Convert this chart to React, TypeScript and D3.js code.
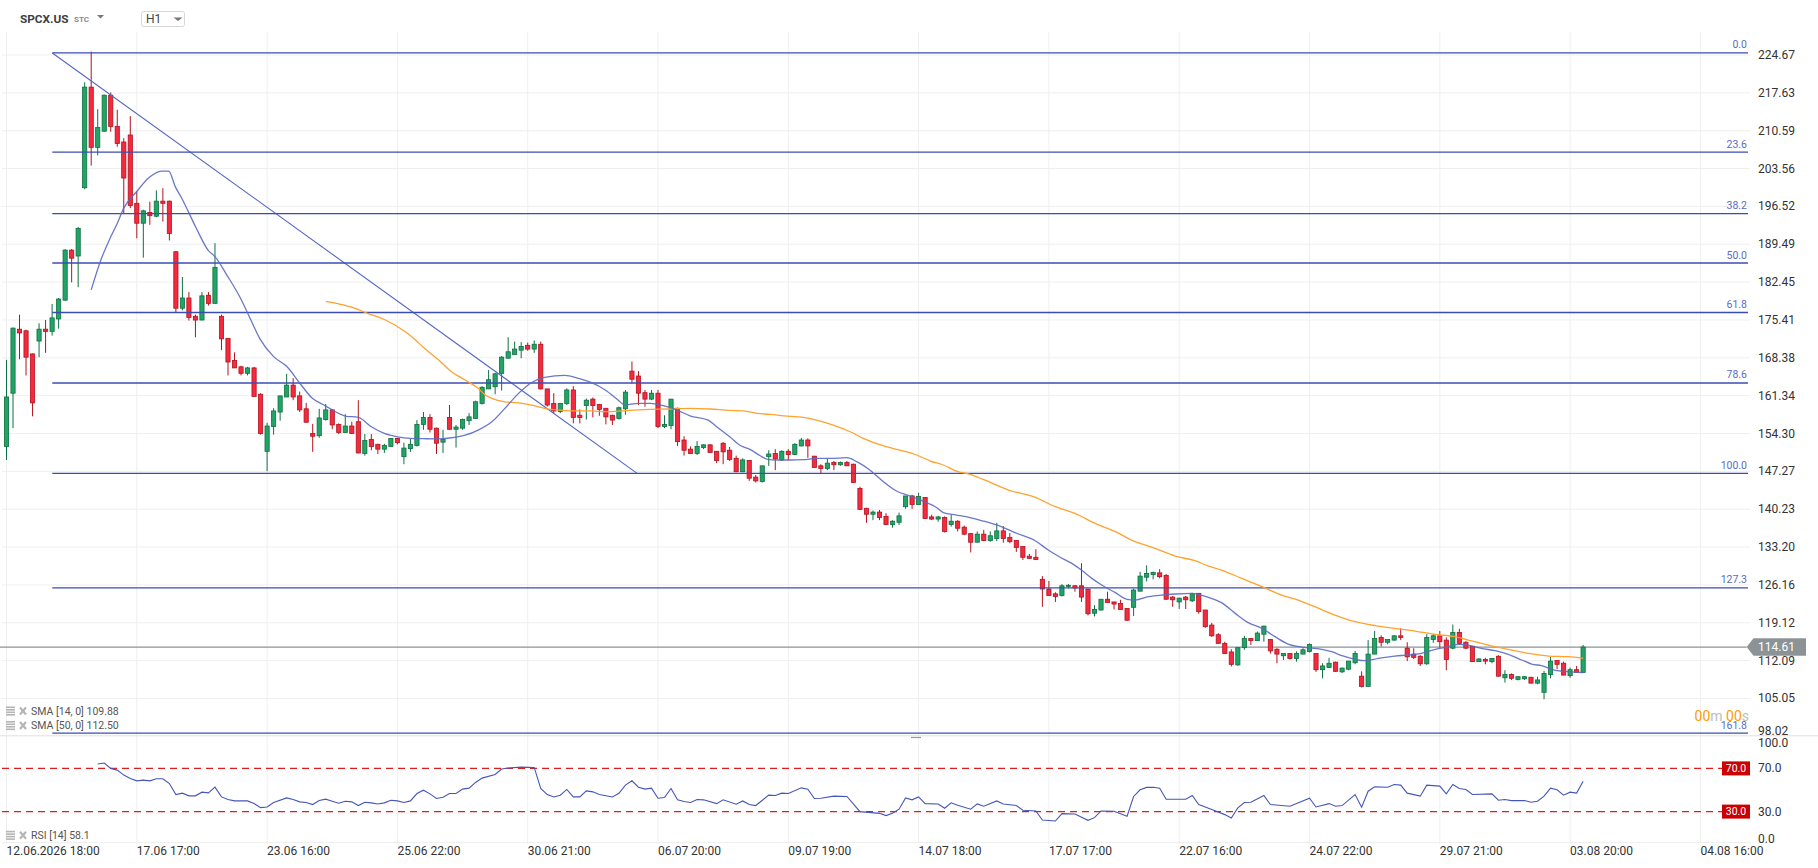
import React from "react";
import * as d3 from "d3";

// hourly candles
const opens = [
  151.9, 161.8, 173.7, 173.4, 169.1, 171.5, 173.7, 173.3, 175.6, 179.1,
  188.4, 187.3, 200.0, 218.7, 207.5, 210.5, 217.2, 211.4, 208.5, 209.8,
  197.1, 193.4, 195.4, 194.7, 197.5, 197.5, 188.1, 177.6, 179.5, 176.1,
  175.4, 180.0, 178.5, 176.1, 172.0, 167.9, 166.7, 165.5, 166.5, 161.6,
  151.0, 155.6, 158.3, 161.1, 163.3, 161.3, 158.9, 154.3, 153.9, 156.9,
  158.7, 156.0, 154.5, 155.7, 156.5, 150.6, 153.2, 152.3, 151.4, 151.9,
  153.4, 150.0, 151.5, 152.1, 156.0, 157.3, 155.3, 152.7, 157.3, 155.1,
  155.3, 156.7, 157.1, 159.9, 162.6, 163.0, 165.5, 168.3, 169.0, 169.8,
  170.7, 170.0, 170.9, 162.6, 159.9, 158.4, 159.9, 162.4, 157.7, 159.5,
  160.7, 159.7, 159.0, 157.7, 157.1, 158.9, 165.9, 165.0, 161.9, 160.7,
  161.8, 155.6, 155.8, 159.0, 153.1, 151.4, 150.6, 151.7, 152.2, 151.0,
  152.5, 151.2, 149.7, 147.2, 149.3, 146.2, 145.4, 150.0, 150.6, 149.4,
  151.0, 150.4, 152.0, 153.1, 150.1, 148.3, 147.8, 148.9, 148.5, 148.9,
  148.6, 144.1, 140.4, 139.3, 139.7, 138.9, 137.4, 137.8, 140.7, 142.7,
  141.1, 142.4, 138.8, 138.4, 138.7, 137.4, 138.0, 136.9, 135.7, 134.1,
  135.6, 134.4, 134.8, 136.2, 135.0, 134.4, 133.3, 131.5, 131.3, 127.2,
  125.4, 124.5, 124.2, 125.9, 126.0, 126.0, 125.4, 120.9, 121.5, 123.5,
  123.0, 122.7, 121.8, 122.0, 125.0, 127.6, 128.1, 128.4, 127.9, 123.9,
  123.0, 123.9, 123.2, 124.6, 121.5, 118.7, 116.9, 115.3, 113.7, 111.3,
  114.5, 116.2, 115.8, 117.0, 116.0, 114.2, 113.0, 113.4, 112.5, 113.3,
  113.8, 113.4, 110.4, 110.8, 111.8, 110.0, 110.5, 111.7, 109.2, 107.3,
  113.3, 116.4, 115.5, 115.9, 116.7, 114.4, 113.3, 112.9, 111.5, 116.0,
  116.7, 115.9, 114.4, 117.3, 115.5, 114.7, 111.9, 112.3, 111.9, 112.9,
  108.9, 109.5, 108.6, 108.7, 109.0, 107.9, 106.2, 109.5, 112.1, 111.6,
  109.3, 110.4, 109.9,
];
const highs = [
  168.0, 174.0, 176.4, 173.6, 169.2, 174.8, 175.4, 178.4, 179.5, 188.6,
  188.6, 192.7, 219.6, 225.3, 214.6, 217.3, 217.7, 214.5, 209.2, 213.3,
  199.3, 195.9, 197.4, 199.5, 199.9, 197.6, 188.2, 183.4, 180.6, 176.4,
  180.6, 180.6, 189.7, 176.4, 172.0, 169.4, 166.9, 166.7, 166.7, 161.8,
  156.3, 159.0, 161.3, 165.4, 164.6, 162.1, 160.0, 156.1, 158.9, 159.8,
  158.8, 156.2, 157.9, 156.5, 160.5, 154.2, 154.2, 152.4, 152.4, 153.4,
  153.5, 152.6, 153.3, 156.8, 158.3, 157.9, 155.4, 155.0, 159.6, 155.9,
  157.1, 158.1, 160.4, 163.1, 166.1, 165.6, 168.7, 172.2, 171.4, 171.3,
  171.2, 171.6, 171.4, 162.6, 161.8, 160.0, 162.7, 163.1, 158.8, 160.8,
  161.0, 159.8, 159.0, 157.8, 159.3, 162.4, 167.7, 165.9, 162.4, 162.4,
  162.4, 157.7, 160.7, 159.1, 153.8, 151.9, 152.9, 152.3, 152.3, 151.0,
  152.7, 151.8, 150.2, 149.7, 149.4, 146.6, 148.3, 151.2, 151.4, 151.2,
  151.4, 152.5, 153.5, 153.4, 150.1, 148.6, 149.6, 149.2, 149.1, 149.2,
  148.7, 144.4, 140.5, 140.0, 140.1, 139.5, 138.2, 139.6, 142.7, 142.9,
  143.3, 142.5, 139.2, 139.0, 138.9, 139.2, 138.2, 137.2, 135.8, 136.1,
  136.4, 136.1, 137.7, 137.1, 135.8, 134.5, 133.3, 131.9, 132.8, 127.8,
  126.9, 124.8, 126.3, 126.3, 126.1, 130.2, 125.4, 122.4, 123.5, 124.9,
  123.0, 123.4, 121.8, 125.5, 128.6, 129.8, 128.6, 129.1, 128.2, 124.1,
  123.8, 124.1, 124.7, 124.6, 121.5, 119.1, 117.2, 115.6, 114.2, 114.5,
  116.7, 116.3, 117.5, 118.6, 116.1, 114.4, 113.4, 113.4, 113.8, 114.4,
  115.3, 113.4, 111.6, 112.6, 111.9, 110.8, 112.0, 113.9, 110.1, 115.9,
  117.6, 116.8, 116.0, 116.8, 118.1, 115.5, 114.4, 113.1, 117.0, 117.0,
  117.6, 116.4, 118.8, 118.0, 115.7, 114.7, 112.5, 112.6, 112.6, 113.1,
  110.3, 109.7, 109.2, 109.2, 109.0, 109.1, 110.2, 112.8, 112.1, 111.9,
  110.8, 111.1, 115.0,
];
const lows = [
  149.4, 155.3, 168.1, 165.1, 157.5, 168.5, 169.3, 172.5, 173.8, 179.0,
  182.4, 181.5, 199.7, 204.1, 206.0, 210.4, 210.4, 207.6, 195.3, 196.2,
  190.6, 187.0, 193.1, 194.5, 193.7, 190.2, 176.8, 177.2, 175.3, 172.2,
  175.4, 178.1, 178.5, 169.8, 165.1, 166.5, 165.1, 165.1, 161.2, 154.1,
  147.3, 154.1, 156.7, 161.1, 160.5, 158.3, 156.4, 150.9, 153.5, 156.7,
  155.1, 154.2, 154.5, 154.2, 150.6, 150.2, 151.2, 150.5, 150.7, 151.9,
  152.3, 148.6, 150.9, 151.9, 155.0, 154.5, 150.5, 150.7, 155.0, 151.7,
  155.0, 155.9, 157.1, 159.7, 162.6, 161.6, 162.3, 168.3, 169.0, 168.3,
  169.7, 169.3, 162.5, 159.3, 158.1, 158.1, 159.6, 156.2, 156.2, 156.9,
  157.3, 157.6, 156.0, 155.9, 156.9, 157.8, 163.6, 159.6, 159.3, 160.5,
  155.3, 155.3, 155.1, 152.0, 150.2, 150.5, 150.3, 151.4, 150.7, 148.8,
  148.6, 149.2, 147.1, 147.1, 145.5, 145.2, 145.2, 148.3, 147.5, 149.2,
  149.3, 150.3, 151.9, 149.8, 148.0, 146.9, 147.5, 147.5, 148.3, 148.3,
  145.1, 140.1, 137.7, 138.2, 138.2, 137.3, 136.8, 137.3, 140.3, 140.3,
  141.1, 138.5, 138.2, 137.9, 135.9, 137.0, 136.1, 135.4, 132.2, 134.1,
  134.3, 134.2, 134.3, 134.0, 133.9, 132.3, 130.8, 131.0, 130.8, 122.1,
  124.2, 123.0, 124.0, 125.5, 124.9, 123.0, 120.5, 120.3, 121.4, 122.9,
  121.6, 121.5, 119.5, 120.4, 125.0, 126.8, 127.2, 127.4, 123.4, 122.1,
  121.7, 121.7, 123.0, 120.8, 118.2, 116.5, 115.2, 113.3, 111.0, 111.1,
  114.1, 115.0, 115.8, 115.6, 113.4, 111.6, 112.2, 112.3, 111.9, 113.3,
  113.6, 110.0, 108.8, 110.8, 110.0, 109.8, 110.3, 111.4, 107.1, 107.3,
  113.3, 114.7, 115.1, 115.8, 115.9, 112.0, 112.4, 111.1, 111.3, 115.4,
  114.5, 110.3, 114.2, 115.0, 114.2, 111.9, 111.9, 111.4, 111.6, 109.1,
  108.0, 108.5, 108.4, 108.5, 107.9, 107.7, 104.9, 108.8, 110.5, 109.4,
  108.9, 109.9, 109.9,
];
const closes = [
  161.1, 173.9, 173.0, 168.5, 160.0, 173.7, 173.3, 175.8, 179.3, 188.4,
  186.9, 192.4, 218.7, 207.5, 211.2, 217.2, 211.4, 208.2, 201.8, 196.7,
  193.4, 195.7, 194.8, 197.5, 197.1, 191.5, 177.6, 179.5, 175.9, 175.4,
  179.9, 178.5, 185.2, 171.9, 167.6, 166.5, 165.5, 166.5, 161.2, 154.3,
  155.7, 158.5, 161.3, 163.3, 161.1, 158.7, 156.4, 153.8, 157.2, 158.7,
  155.9, 154.5, 155.7, 154.3, 150.7, 153.0, 151.9, 151.4, 152.1, 153.4,
  152.6, 151.6, 152.3, 156.0, 157.3, 155.1, 152.5, 153.2, 155.1, 155.5,
  156.9, 157.4, 160.2, 162.9, 164.3, 165.4, 168.5, 169.5, 170.0, 170.5,
  170.0, 170.9, 162.6, 159.6, 158.5, 159.9, 162.4, 157.3, 157.3, 160.5,
  159.5, 158.8, 157.4, 156.8, 159.1, 162.0, 164.4, 161.8, 160.7, 161.8,
  155.6, 156.0, 160.7, 152.8, 151.2, 150.6, 151.9, 152.2, 150.8, 149.3,
  150.9, 149.5, 147.2, 149.4, 146.0, 145.5, 148.3, 150.5, 149.6, 151.0,
  150.4, 152.3, 153.1, 152.0, 148.0, 147.8, 148.8, 148.5, 148.9, 148.3,
  145.2, 140.2, 139.3, 139.7, 138.7, 137.4, 138.0, 139.0, 142.7, 141.1,
  142.6, 138.5, 138.4, 138.8, 136.1, 138.0, 136.7, 135.6, 134.1, 135.6,
  134.4, 135.3, 136.2, 134.8, 134.2, 133.1, 131.3, 131.1, 130.9, 125.4,
  124.2, 124.0, 126.0, 126.1, 125.6, 123.9, 120.8, 121.6, 123.5, 122.9,
  122.6, 121.6, 119.6, 125.2, 127.8, 128.3, 128.5, 127.7, 123.5, 123.4,
  123.7, 123.4, 124.5, 121.2, 118.4, 116.7, 115.3, 113.4, 111.4, 114.5,
  116.2, 115.8, 117.2, 118.5, 113.9, 113.3, 113.4, 112.5, 113.4, 114.1,
  115.1, 110.4, 111.1, 111.6, 110.1, 110.7, 112.0, 113.4, 107.3, 113.3,
  116.2, 115.5, 116.0, 116.7, 116.4, 112.8, 112.7, 111.5, 116.4, 116.7,
  115.6, 112.3, 117.3, 115.3, 114.4, 111.9, 112.4, 112.0, 112.5, 109.2,
  109.5, 108.8, 109.1, 109.1, 107.9, 108.5, 109.7, 112.0, 111.4, 109.4,
  110.4, 109.9, 114.61,
];

// [candle index, value]
const sma14 = [
  [13, 181.0], [14.4, 186.3], [15.9, 190.6], [16.9, 193.1], [18, 196.2], [20, 199.3],
  [21.8, 201.8], [23.8, 203.1], [24.9, 203.1], [25.9, 200.2], [26.9, 198.05], [29, 192.8],
  [31, 188.3], [32, 187.2], [33.8, 183.8], [35.9, 179.5], [37.4, 175.7], [38.9, 171.9],
  [41, 168.6], [43, 166.8], [45, 163.7], [46.9, 160.9], [48.9, 159.5], [52, 157.56],
  [54, 157.3], [56, 155.57], [58, 154.33], [60, 153.7], [62, 153.4], [64, 153.34],
  [66, 153.3], [68, 153.47], [70.4, 154.0], [72.4, 154.95], [74.5, 156.5], [76.5, 158.98],
  [78.6, 161.77], [80.6, 163.8], [82.6, 164.74], [85.7, 165.1], [87.8, 164.56], [89.8, 163.75],
  [91.9, 162.4], [93.9, 160.5], [94.9, 159.6], [97, 159.9], [98.8, 159.9], [100.8, 159.48],
  [102.9, 158.67], [104.9, 157.6], [107.7, 156.8], [109, 155.57], [111, 153.7], [112.8, 151.98],
  [114.1, 151.36], [115.7, 150.18], [116.7, 149.56], [118.2, 149.38], [120.3, 149.38],
  [122.3, 149.44], [124.3, 149.69], [126.4, 149.69], [129, 149.81], [130.5, 149.07],
  [132.5, 147.52], [134.6, 145.35], [136.6, 143.61], [138.7, 142.68], [140.7, 141.75],
  [142.8, 140.52], [143.8, 139.59], [145.8, 139.15], [147.9, 138.66], [149.9, 138.04],
  [152.7, 136.98], [154.8, 135.87], [157.9, 134.38], [159.9, 132.65], [161.4, 131.53],
  [163.5, 130.17], [165, 128.93], [166.6, 127.38], [168.1, 126.14], [170.2, 124.72],
  [172, 123.48], [173.2, 123.35], [175.3, 123.97], [177.3, 124.28], [179.4, 124.47],
  [181.9, 124.59], [184.5, 123.85], [186.5, 122.86], [188.6, 120.87], [190.6, 119.14],
  [192.7, 118.08], [194.7, 116.54], [196.7, 115.17], [198.8, 114.6], [201.9, 114.18],
  [203.4, 113.75], [205, 113.0], [207, 112.32], [208.5, 112.07], [210.6, 112.5],
  [213.1, 112.94], [215.2, 113.13], [217.2, 113.44], [219.3, 114.18], [221.3, 114.67],
  [222.9, 115.11], [224.4, 114.98], [226.4, 114.36], [228.5, 113.93], [230.5, 113.25],
  [232.6, 112.2], [234.1, 111.45], [235.6, 111.14], [237.6, 110.34], [239.7, 110.03],
  [242, 109.88],
];
const sma50 = [
  [49, 178.85], [51, 178.4], [53, 177.8], [55.5, 176.6], [58, 175.5], [61, 173.4],
  [62.2, 172.3], [64.2, 170.1], [66.3, 168.0], [68.3, 165.8], [70.4, 164.25], [72.4, 162.7],
  [73.5, 161.46], [74.5, 160.84], [76.5, 160.2], [78.6, 160.0], [80.6, 159.6], [82.6, 159.0],
  [84.7, 158.67], [86.7, 158.5], [89.8, 158.5], [92, 158.36], [95, 158.55], [98.8, 158.8],
  [101.8, 158.86], [104.9, 158.98], [108, 158.86], [111, 158.6], [113.1, 158.5], [115.2, 158.05],
  [117.2, 157.87], [119.3, 157.6], [122.3, 157.3], [124.3, 156.8], [126.9, 155.88],
  [129.5, 154.64], [131.5, 153.4], [134.6, 152.0], [137.7, 151.05], [139.7, 150.31],
  [141.8, 149.19], [143.8, 148.45], [145.8, 147.33], [147.9, 146.71], [149.9, 145.78],
  [153.8, 143.8], [157.9, 142.44], [161, 140.7], [164, 139.46], [167.1, 137.6], [170.2, 136.06],
  [172.7, 134.5], [176.3, 132.96], [179.4, 131.53], [182.4, 130.66], [184.5, 129.67],
  [186.5, 128.93], [189.6, 127.38], [192.7, 125.83], [195.7, 124.28], [197.8, 123.5],
  [200.8, 122.11], [203.9, 120.56], [207, 119.32], [210.1, 118.58], [213.1, 118.08],
  [216.2, 117.59], [219.3, 116.97], [222.3, 116.53], [224.4, 115.91], [226.4, 115.3],
  [228.5, 114.67], [230.5, 114.18], [233.6, 113.44], [236.7, 112.94], [239.7, 112.82],
  [242, 112.5],
];
const rsi14 = [
  [14, 74.0], [15, 75.0], [16, 70.0], [17, 68.4], [18, 63.8], [19, 60.7], [20, 58.5], [21, 59.1],
  [22, 58.5], [23, 60.4], [24, 60.4], [25, 56.0], [26, 45.8], [27, 47.1], [28, 44.6], [29, 44.6],
  [30, 48.0], [31, 47.4], [32, 52.6], [33, 43.6], [34, 41.2], [35, 39.9], [37, 39.9], [38, 37.4],
  [39, 33.7], [40, 34.3], [41, 38.4], [43, 42.7], [44, 41.2], [45, 39.0], [46, 38.4], [47, 36.5],
  [48, 40.2], [49, 41.5], [50, 39.6], [51, 37.8], [52, 39.6], [53, 39.0], [54, 35.6], [55, 38.7],
  [56, 38.1], [57, 37.1], [58, 38.1], [59, 40.5], [60, 39.9], [61, 38.4], [62, 39.9], [63, 46.7],
  [64, 49.8], [65, 46.4], [66, 42.1], [67, 43.3], [68, 46.7], [69, 46.7], [70, 50.8], [71, 51.7],
  [72, 57.0], [73, 61.0], [75, 64.4], [76, 69.4], [77, 70.3], [79, 71.2], [81, 70.9], [82, 51.4],
  [83, 45.8], [84, 43.6], [85, 45.2], [86, 50.5], [87, 43.6], [88, 43.6], [89, 49.2], [90, 48.3],
  [91, 45.8], [93, 43.5], [94, 47.0], [95, 54.5], [96, 58.5], [97, 52.6], [98, 50.8], [99, 51.7],
  [100, 42.4], [101, 43.0], [102, 51.4], [103, 40.9], [104, 39.3], [105, 38.4], [106, 41.2],
  [107, 40.9], [109, 37.4], [110, 40.9], [112, 36.8], [113, 39.9], [114, 36.5], [115, 35.6],
  [117, 45.2], [118, 44.9], [119, 47.1], [120, 46.7], [122, 52.0], [123, 50.8], [124, 42.1],
  [125, 42.4], [127, 44.3], [129, 44.0], [131, 30.0], [134, 28.4], [135, 26.3], [136, 28.4],
  [137, 32.2], [138, 42.7], [139, 40.9], [140, 43.6], [141, 37.4], [143, 37.1], [144, 33.1],
  [145, 38.1], [146, 35.9], [148, 32.2], [149, 37.1], [150, 35.0], [152, 39.9], [153, 37.1],
  [155, 35.6], [156, 31.2], [158, 30.6], [159, 22.2], [161, 21.3], [162, 28.1], [164, 27.8],
  [166, 21.9], [167, 24.4], [168, 30.6], [170, 30.3], [172, 25.7], [173, 44.0], [174, 50.2],
  [175, 52.4], [176, 52.5], [177, 51.7], [178, 41.5], [181, 41.5], [182, 44.9], [183, 36.5],
  [185, 31.9], [187, 27.2], [188, 24.1], [189, 33.4], [190, 38.4], [191, 38.7], [193, 44.9],
  [194, 36.5], [197, 35.0], [200, 42.4], [201, 34.3], [203, 37.4], [204, 35.0], [205, 35.6],
  [207, 45.8], [208, 34.0], [209, 48.9], [210, 52.9], [212, 52.6], [213, 55.1], [214, 54.5],
  [215, 47.1], [217, 44.3], [218, 54.5], [220, 53.6], [221, 46.4], [222, 55.1], [223, 51.4],
  [224, 50.5], [225, 45.8], [228, 46.4], [229, 40.5], [230, 41.2], [231, 40.2], [233, 40.2],
  [234, 38.7], [235, 39.6], [236, 44.3], [237, 51.7], [238, 50.2], [239, 45.2], [240, 48.0],
  [241, 47.1], [242, 58.1],
];

const timeLabels = [
  "12.06.2026 18:00", "17.06 17:00", "23.06 16:00", "25.06 22:00", "30.06 21:00",
  "06.07 20:00", "09.07 19:00", "14.07 18:00", "17.07 17:00", "22.07 16:00",
  "24.07 22:00", "29.07 21:00", "03.08 20:00", "04.08 16:00",
];
const priceTicks = [
  "224.67", "217.63", "210.59", "203.56", "196.52", "189.49", "182.45", "175.41", "168.38",
  "161.34", "154.30", "147.27", "140.23", "133.20", "126.16", "119.12", "112.09", "105.05", "98.02",
];
const rsiTicks = [100, 70, 30, 0];
const fibLabels = ["0.0", "23.6", "38.2", "50.0", "61.8", "78.6", "100.0", "127.3", "161.8"];
const fibPrices = [225.05, 206.6, 195.2, 186.0, 176.8, 163.7, 146.9, 125.6, 98.6];
const fibAnchors = [7.03, 96.8]; // candle positions of the drawn retracement tool
const lastPrice = 114.61;
const sma14Last = "109.88";
const sma50Last = "112.50";
const rsiLast = "58.1";

const FONT = "Roboto, 'Noto Sans', sans-serif";
const UP = { fill: "#22a467", stroke: "#0d7040" };
const DOWN = { fill: "#f42a3e", stroke: "#b3121f" };
const RIGHT = 1748;

export default function App() {
  const x = d3.scaleLinear().domain([0, 242]).range([6.5, 6.5 + 6.515 * 242]);
  const y = d3.scaleLinear().domain([98.02, 224.67]).range([736.3, 55]);
  const yR = d3.scaleLinear().domain([0, 100]).range([844, 736]);

  const lineP = d3.line<number[]>().x(d => x(d[0])).y(d => y(d[1])).curve(d3.curveMonotoneX);
  const lineR = d3.line<number[]>().x(d => x(d[0])).y(d => yR(d[1]));

  const hamburger = (ty: number) => (
    <g transform={`translate(6,${ty - 4.5})`}>
      {[0, 2.5, 5, 7.5].map(o => <rect key={o} x={0} y={o} width={9} height={1.6} fill="#b5b5b5" />)}
      <g stroke="#b5b5b5" strokeWidth={2.2}>
        <line x1={14} y1={1} x2={20} y2={8} />
        <line x1={20} y1={1} x2={14} y2={8} />
      </g>
    </g>
  );

  return (
    <svg width={1818} height={868} style={{ position: "absolute", left: 0, top: 0, background: "#fff" }}
      fontFamily={FONT}>
      {/* header */}
      <text x={20} y={23} fontSize={11.8} fontWeight={700} fill="#3c4043">SPCX.US</text>
      <text x={74} y={22} fontSize={8} fontWeight={700} fill="#8a8a8a">STC</text>
      <path d="M97,15 L104,15 L100.5,18.6 Z" fill="#777" />
      <rect x={141.5} y={11.5} width={43} height={15} rx={2} fill="#fff" stroke="#d6d6d6" />
      <text x={146} y={23} fontSize={12} fill="#444">H1</text>
      <path d="M173.5,17.5 L182.5,17.5 L178,21 Z" fill="#777" />

      {/* grid */}
      {timeLabels.map((t, k) => (
        <line key={t} x1={x(k * 20)} x2={x(k * 20)} y1={32} y2={844} stroke="#efefef" />
      ))}
      {priceTicks.slice(0, -1).map(t => (
        <line key={t} x1={2} x2={1750} y1={y(+t)} y2={y(+t)} stroke="#efefef" />
      ))}
      <line x1={2} x2={1750} y1={yR(0) - 1.5} y2={yR(0) - 1.5} stroke="#efefef" />

      {/* current price line */}
      <line x1={0} x2={1746.7} y1={y(lastPrice)} y2={y(lastPrice)} stroke="#8c9397" strokeWidth={1.2} />

      {/* candles */}
      {closes.map((c, i) => {
        const o = opens[i];
        const col = c >= o ? UP : DOWN;
        const cx = x(i);
        const top = y(Math.max(o, c));
        const h = Math.max(1, Math.abs(y(o) - y(c)));
        return (
          <g key={i}>
            <line x1={cx} x2={cx} y1={y(highs[i])} y2={y(lows[i])} stroke={col.stroke} strokeWidth={1} />
            <rect x={cx - 2.1} y={top} width={4.2} height={h} fill={col.fill} stroke={col.stroke} strokeWidth={0.8} />
          </g>
        );
      })}

      {/* fibonacci tool */}
      <line x1={x(fibAnchors[0])} y1={y(fibPrices[0])} x2={x(fibAnchors[1])} y2={y(fibPrices[6])}
        stroke="#5566c4" strokeWidth={1.1} />
      {fibPrices.map((p, k) => (
        <g key={k}>
          <line x1={x(fibAnchors[0])} x2={RIGHT} y1={y(p)} y2={y(p)} stroke="#3a4cb4" strokeWidth={1.3} />
          <text x={RIGHT - 1} y={y(p) - 4.5} textAnchor="end" fontSize={10.5} fill="#5c6bc0">{fibLabels[k]}</text>
        </g>
      ))}

      {/* moving averages */}
      <path d={lineP(sma50) || ""} fill="none" stroke="#ffa22e" strokeWidth={1.3} />
      <path d={lineP(sma14) || ""} fill="none" stroke="#5a69c2" strokeOpacity={0.9} strokeWidth={1.3} />

      {/* countdown, drawn over the 161.8 label as in the terminal */}
      <text x={1749} y={721} textAnchor="end" fontSize={14}>
        <tspan fill="#ff9c00">00</tspan><tspan fill="#bdbdbd">m </tspan>
        <tspan fill="#ff9c00">00</tspan><tspan fill="#bdbdbd">s</tspan>
      </text>

      {/* legend */}
      {hamburger(711)}
      <text x={31} y={711} dominantBaseline="central" fontSize={10.5} fill="#555">SMA [14, 0] {sma14Last}</text>
      {hamburger(725.5)}
      <text x={31} y={725.5} dominantBaseline="central" fontSize={10.5} fill="#555">SMA [50, 0] {sma50Last}</text>

      {/* price axis */}
      {priceTicks.map((t, k) => (
        <text key={t} x={1758} y={k === priceTicks.length - 1 ? 731 : y(+t)} dominantBaseline="central"
          fontSize={12} fill="#333">{t}</text>
      ))}
      <path d={`M1746.7,${y(lastPrice)} L1753.5,${y(lastPrice) - 8.7} L1806,${y(lastPrice) - 8.7} L1806,${y(lastPrice) + 8.7} L1753.5,${y(lastPrice) + 8.7} Z`}
        fill="#8c9397" />
      <text x={1758} y={y(lastPrice)} dominantBaseline="central" fontSize={12} fill="#fff">{lastPrice.toFixed(2)}</text>

      {/* panel separator */}
      <line x1={0} x2={1818} y1={735.8} y2={735.8} stroke="#e0e0e0" />
      <line x1={911} x2={921} y1={737.5} y2={737.5} stroke="#9a9a9a" strokeWidth={1.2} />

      {/* RSI panel */}
      {[70, 30].map(v => (
        <g key={v}>
          <line x1={2} x2={1722} y1={yR(v)} y2={yR(v)} stroke="#e21b1b" strokeWidth={1.3} strokeDasharray="7,5" />
          <rect x={1722} y={yR(v) - 7} width={28} height={14} fill="#cc0000" />
          <text x={1736} y={yR(v)} textAnchor="middle" dominantBaseline="central" fontSize={10.5} fill="#fff">{v.toFixed(1)}</text>
        </g>
      ))}
      <path d={lineR(rsi14) || ""} fill="none" stroke="#4656b8" strokeWidth={1.1} />
      {rsiTicks.map((v, k) => (
        <text key={v} x={1758} y={yR(v) + (k === 0 ? 7 : k === rsiTicks.length - 1 ? -5.5 : 0)}
          dominantBaseline="central" fontSize={12} fill="#333">{v.toFixed(1)}</text>
      ))}
      {hamburger(835.3)}
      <text x={31} y={835.3} dominantBaseline="central" fontSize={10.5} fill="#555">RSI [14] {rsiLast}</text>

      {/* time axis */}
      {timeLabels.map((t, k) => (
        <text key={t} x={x(k * 20)} y={851} dominantBaseline="central" fontSize={12} fill="#333">{t}</text>
      ))}
    </svg>
  );
}
